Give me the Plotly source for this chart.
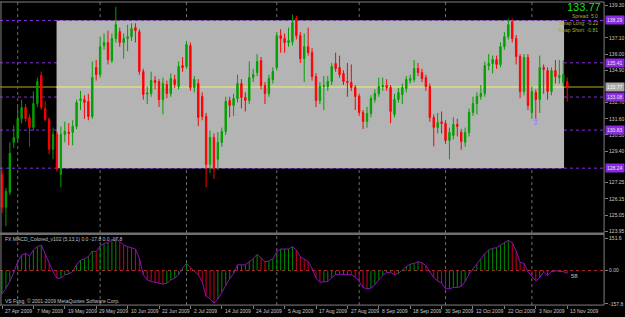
import plotly.graph_objects as go
import pandas as pd

# ---------------- data ----------------
dates = pd.bdate_range("2009-04-27", periods=145)

open_ = [127.82,125.58,126.60,130.00,130.26,131.62,132.37,131.69,131.01,132.64,
         134.54,132.30,131.56,129.52,130.54,127.82,130.54,130.70,130.67,131.08,
         132.85,132.91,132.78,131.76,135.09,134.61,136.58,136.79,135.56,137.06,
         137.53,136.79,137.06,137.19,137.81,137.53,134.82,133.28,133.32,134.21,
         134.14,132.91,133.93,133.32,134.27,133.80,135.22,135.16,136.58,133.73,
         134.00,133.12,131.76,128.50,130.33,128.84,130.00,130.74,132.85,132.51,
         132.98,134.00,133.05,132.85,134.41,134.75,135.56,133.87,133.32,134.27,
         135.09,137.26,137.06,136.79,136.85,138.42,137.26,135.70,136.51,136.11,
         134.48,132.85,133.80,133.80,134.14,135.36,135.09,134.68,134.14,134.07,
         133.73,133.12,132.03,131.42,131.96,132.91,133.32,133.80,133.87,133.73,
         131.90,132.91,133.25,133.66,134.21,134.27,135.02,134.75,134.41,133.80,
         131.69,131.01,131.40,131.28,130.13,130.47,131.22,130.67,130.00,130.67,
         132.03,132.64,133.12,133.32,135.22,135.36,135.63,135.29,136.51,137.19,
         138.21,137.06,135.84,133.46,135.77,132.03,133.39,132.91,135.09,134.88,
         133.46,134.88,134.41,134.07,134.14]
high = [128.10,126.90,130.00,131.15,132.40,132.90,132.60,131.90,133.46,134.40,
        134.82,132.80,131.70,131.00,130.70,131.08,131.40,131.30,131.50,132.90,
        133.50,133.20,133.30,135.50,135.60,137.20,137.40,137.60,137.40,139.23,
        137.80,137.40,138.00,138.10,138.10,137.70,135.00,133.80,134.80,134.50,
        134.30,134.40,134.20,134.70,134.60,135.50,135.80,136.90,136.80,134.50,
        134.30,133.40,132.00,130.80,130.60,130.70,131.00,133.10,133.10,133.30,
        134.60,134.30,133.40,135.50,135.00,136.00,135.80,134.10,134.60,135.10,
        137.50,137.70,137.40,137.80,138.69,138.60,137.50,137.40,137.80,136.40,
        134.70,134.10,134.50,134.50,135.40,136.10,135.90,134.90,135.40,135.30,
        133.90,133.30,132.20,132.40,133.20,133.60,134.40,134.40,134.30,133.90,
        133.30,133.70,134.00,134.50,134.60,135.60,135.40,135.00,134.60,134.00,
        131.90,132.00,132.10,131.50,131.00,131.70,131.60,130.90,131.00,132.30,
        133.10,133.40,133.90,135.50,136.00,135.90,135.90,136.80,137.50,138.42,
        138.42,137.30,136.00,136.00,136.00,133.80,133.60,135.90,135.30,135.10,
        135.10,135.60,135.60,135.60,134.41]
low = [125.20,124.29,126.40,129.60,130.10,131.30,131.40,129.70,130.80,132.40,
       132.20,131.40,129.18,128.84,128.00,126.94,130.00,129.80,129.80,130.90,
       132.20,131.60,131.50,131.60,134.20,134.40,136.30,135.30,135.40,136.80,
       136.50,135.70,136.20,136.90,136.80,134.60,132.90,132.60,133.10,133.60,
       132.40,131.90,133.00,133.10,133.70,133.60,134.80,135.00,133.50,133.40,
       131.10,131.50,126.94,127.90,127.50,128.10,129.70,130.50,131.70,131.80,
       132.70,132.30,132.10,132.60,134.10,134.50,133.60,132.60,133.10,134.00,
       134.90,136.10,136.10,136.50,136.60,137.00,135.40,134.10,135.90,134.20,
       132.40,132.60,132.20,133.50,133.90,134.80,134.40,133.90,133.10,133.50,
       132.20,131.80,130.90,131.00,131.70,132.70,133.10,133.50,133.50,131.30,
       131.70,132.70,132.60,133.40,134.00,134.10,134.50,134.10,133.50,131.40,
       129.72,130.60,130.60,129.90,128.84,130.20,130.40,129.50,129.70,130.40,
       131.80,131.90,132.90,133.10,134.90,134.70,135.00,135.10,136.30,137.00,
       136.80,135.30,133.00,133.20,132.20,131.60,131.60,132.00,133.30,132.90,
       133.20,134.00,134.00,133.80,132.78]
close = [125.58,126.66,129.25,130.33,131.62,132.37,131.62,131.01,132.64,134.14,
         132.37,131.56,129.52,130.54,128.16,130.54,130.74,130.60,131.08,132.71,
         132.95,132.71,131.76,134.41,134.61,136.51,136.79,135.63,137.06,138.01,
         136.79,137.06,137.19,137.74,137.60,134.82,133.25,133.35,134.21,134.07,
         132.91,134.00,133.32,134.34,133.93,135.16,135.09,136.65,133.73,134.27,
         131.69,131.76,128.50,130.33,128.16,130.00,130.74,132.78,132.51,132.98,
         134.00,133.05,132.85,134.41,134.61,135.50,133.87,133.32,134.34,134.82,
         137.26,137.06,136.79,136.92,138.15,137.26,135.70,136.51,136.11,134.48,
         132.85,133.80,133.87,134.14,135.16,135.02,134.61,134.14,134.07,133.73,
         133.12,132.03,131.42,131.96,132.98,133.32,133.80,133.87,133.73,132.10,
         132.91,133.39,133.73,134.27,134.34,135.02,134.75,134.34,133.80,131.69,
         131.01,131.35,131.28,130.13,130.67,131.22,131.08,130.06,130.67,132.03,
         132.64,133.12,133.32,135.22,135.36,135.63,135.30,136.51,137.19,138.01,
         137.06,135.84,133.46,135.77,132.51,133.46,132.91,135.09,134.95,133.46,
         134.88,134.48,134.54,134.61,133.77]
macd = [-110,-85,-50,-10,42,74,81,70,97,113,
        121,81,34,-5,-36,-36,-20,-16,-5,27,
        50,55,66,92,89,117,128,133,144,152,
        136,121,113,108,102,58,-20,-44,-52,-55,
        -61,-64,-60,-44,-36,-20,11,34,14,-5,
        -20,-52,-122,-133,-155,-135,-102,-67,-39,-13,
        27,27,27,42,55,77,61,42,45,55,
        89,102,102,102,113,97,66,53,42,11,
        -36,-55,-55,-52,-33,-20,-17,-17,-17,-20,
        -30,-52,-80,-86,-83,-67,-44,-23,-9,-9,
        -20,-13,3,19,30,34,42,36,24,-8,
        -33,-49,-60,-86,-86,-80,-80,-75,-52,-17,
        8,30,55,81,97,105,108,121,133,143,
        132,92,39,34,-5,-28,-49,-33,-8,-23,
        -5,-2,-2,-5,-13]

price_tick_vals = [139.30, 137.10, 136.00, 134.90, 132.70, 131.60, 130.50, 129.40,
                   127.25, 126.15, 125.05, 123.95]
price_tick_text = ["139.30", "137.10", "136.00", "134.90", "132.70", "131.60", "130.50",
                   "129.40", "127.25", "126.15", "125.05", "123.95"]
levels = [138.29, 135.41, 133.08, 130.83, 128.24]
bid = 133.77
box_bars = [13.9, 143.2]
arrow_bar = [136]
arrow_price = [131.35]
macd_tick_vals = [151.6, 0.0, -157.8]
macd_tick_text = ["151.6", "0.00", "-157.8"]

# ---------------- geometry helpers ----------------
W, H = 625, 317
def fx(p): return p / W
def fy(p): return 1 - p / H

bars = list(range(len(close)))
label_idx = list(range(0, len(close), 8))
label_text = [f"{dates[i].day} {dates[i].strftime('%b %Y')}" for i in label_idx]
month_starts = [i for i in range(1, len(dates)) if dates[i].month != dates[i - 1].month]

FONT = "Liberation Sans, Arial, sans-serif"
AXC = "#c8c8c8"

fig = go.Figure()

fig.add_trace(go.Candlestick(
    x=bars, open=open_, high=high, low=low, close=close,
    increasing=dict(line=dict(color="#00a000", width=1), fillcolor="#00a000"),
    decreasing=dict(line=dict(color="#ff0000", width=1), fillcolor="#ff0000"),
    whiskerwidth=0, xaxis="x", yaxis="y", showlegend=False, hoverinfo="skip"))

fig.add_trace(go.Scatter(x=arrow_bar, y=arrow_price, mode="text", text=["⇧"],
                         textfont=dict(size=9, color="#7878ff", family="DejaVu Sans"),
                         xaxis="x", yaxis="y", showlegend=False, hoverinfo="skip"))

# MACD histogram lines
gx, gy, rx, ry = [], [], [], []
for i, v in enumerate(macd):
    prev = macd[i - 1] if i > 0 else v
    if v >= prev:
        gx += [i, i, None]; gy += [0, v, None]
    else:
        rx += [i, i, None]; ry += [0, v, None]
fig.add_trace(go.Scatter(x=gx, y=gy, mode="lines", line=dict(color="#008a00", width=1),
                         xaxis="x2", yaxis="y2", showlegend=False, hoverinfo="skip"))
fig.add_trace(go.Scatter(x=rx, y=ry, mode="lines", line=dict(color="#d00020", width=1),
                         xaxis="x2", yaxis="y2", showlegend=False, hoverinfo="skip"))
fig.add_trace(go.Scatter(x=bars, y=macd, mode="lines", line=dict(color="#8a10b8", width=1),
                         xaxis="x2", yaxis="y2", showlegend=False, hoverinfo="skip"))

xr = [-0.51, 153.4]
xdom = [0, fx(607)]

shapes = []
shapes.append(dict(type="rect", xref="x", yref="y", x0=box_bars[0], x1=box_bars[1],
                   y0=levels[-1], y1=levels[0], fillcolor="#b4b4b4",
                   line=dict(width=0), layer="below"))
for m in month_starts:
    shapes.append(dict(type="line", xref="x", yref="paper", x0=m, x1=m,
                       y0=fy(307), y1=fy(2), line=dict(color="#6e6e6e", width=1, dash="dot"),
                       layer="below"))
for lv in levels:
    shapes.append(dict(type="line", xref="x domain", yref="y", x0=0, x1=1, y0=lv, y1=lv,
                       line=dict(color="#8a2be2", width=1, dash="dot"), layer="below"))
shapes.append(dict(type="line", xref="x domain", yref="y", x0=0, x1=1, y0=bid, y1=bid,
                   line=dict(color="#76761a", width=1.5), layer="below"))
shapes.append(dict(type="line", xref="x", yref="y", x0=box_bars[0], x1=box_bars[1], y0=bid, y1=bid,
                   line=dict(color="#dcdc88", width=1.5), layer="below"))
shapes.append(dict(type="line", xref="x domain", yref="y2", x0=0, x1=1, y0=0, y1=0,
                   line=dict(color="#b83030", width=1, dash="dot"), layer="below"))
# frame
FR = "#808080"
shapes += [
    dict(type="line", xref="paper", yref="paper", x0=0, x1=fx(607), y0=fy(2), y1=fy(2), line=dict(color=FR, width=1)),
    dict(type="line", xref="paper", yref="paper", x0=fx(1), x1=fx(1), y0=fy(307), y1=fy(2), line=dict(color=FR, width=1)),
    dict(type="line", xref="paper", yref="paper", x0=fx(607), x1=fx(607), y0=fy(307), y1=fy(2), line=dict(color=FR, width=1)),
    dict(type="line", xref="paper", yref="paper", x0=0, x1=fx(607), y0=fy(307), y1=fy(307), line=dict(color=FR, width=1)),
    dict(type="rect", xref="paper", yref="paper", x0=0, x1=fx(607), y0=fy(236.5), y1=fy(234),
         fillcolor="#707070", line=dict(width=0)),
]

ann = []
for lv in levels:
    ann.append(dict(xref="paper", yref="y", x=fx(608), y=lv, xanchor="left", yanchor="middle",
                    text=f"{lv:.2f}", showarrow=False, bgcolor="#8a2be2", borderpad=1,
                    font=dict(size=5, color="#e6e6e6", family=FONT)))
ann.append(dict(xref="paper", yref="y", x=fx(608), y=bid, xanchor="left", yanchor="middle",
                text=f"{bid:.2f}", showarrow=False, bgcolor="#a8a8a8", borderpad=1,
                font=dict(size=5, color="#ffffff", family=FONT)))
ann.append(dict(xref="paper", yref="paper", x=fx(606), y=fy(7.5), xanchor="right", yanchor="middle",
                text=f"{bid:.2f}", showarrow=False, font=dict(size=11, color="#22dd22", family=FONT)))
for t, yy in [("Spread: 5.0", 15.7), ("Swap Long: -0.22", 23.5), ("Swap Short: -0.81", 30)]:
    ann.append(dict(xref="paper", yref="paper", x=fx(603), y=fy(yy), xanchor="right", yanchor="middle",
                    text=t, showarrow=False, font=dict(size=5, color="#a8a83c", family=FONT)))
ann.append(dict(xref="paper", yref="paper", x=fx(3), y=fy(241), xanchor="left", yanchor="middle",
                text="FX MACD_Colored_v102 (5,13,1) 0.0 -17.8 0.0 -17.8", showarrow=False,
                font=dict(size=5, color="#c0c0c0", family=FONT)))
ann.append(dict(xref="paper", yref="paper", x=fx(3), y=fy(303), xanchor="left", yanchor="middle",
                text="VS Fxpg, © 2001-2009 MetaQuotes Software Corp.", showarrow=False,
                font=dict(size=5, color="#c0c0c0", family=FONT)))
ann.append(dict(xref="paper", yref="paper", x=fx(572), y=fy(278), xanchor="left", yanchor="middle",
                text="58", showarrow=False, font=dict(size=6, color="#c0c0c0", family=FONT)))
for i, t in zip(label_idx, label_text):
    ann.append(dict(xref="x2", yref="paper", x=i + 0.3, y=fy(312.5), xanchor="left", yanchor="middle",
                    text=t, showarrow=False, font=dict(size=5, color=AXC, family=FONT)))

fig.update_layout(
    width=W, height=H, margin=dict(l=0, r=0, t=0, b=0),
    paper_bgcolor="#000000", plot_bgcolor="#000000",
    boxgap=0.5, showlegend=False,
    shapes=shapes, annotations=ann,
    xaxis=dict(domain=xdom, range=xr, anchor="y", showgrid=False, zeroline=False,
               showticklabels=False, rangeslider=dict(visible=False), fixedrange=True),
    xaxis2=dict(domain=xdom, range=xr, anchor="y2", showgrid=False, zeroline=False,
                tickmode="array", tickvals=label_idx, ticks="outside", ticklen=3,
                tickcolor="#808080", showticklabels=False, fixedrange=True),
    yaxis=dict(domain=[fy(234), fy(2)], range=[123.86, 139.55], anchor="x", side="right",
               tickmode="array", tickvals=price_tick_vals, ticktext=price_tick_text,
               ticks="outside", ticklen=3, tickcolor="#808080", showgrid=False, zeroline=False,
               tickfont=dict(size=5, color=AXC, family=FONT), fixedrange=True),
    yaxis2=dict(domain=[fy(307), fy(237)], range=[-163.1, 165.9], anchor="x2", side="right",
                tickmode="array", tickvals=macd_tick_vals, ticktext=macd_tick_text,
                ticks="outside", ticklen=3, tickcolor="#808080", showgrid=False, zeroline=False,
                tickfont=dict(size=5, color=AXC, family=FONT), fixedrange=True),
)

fig.write_html("out.html")
